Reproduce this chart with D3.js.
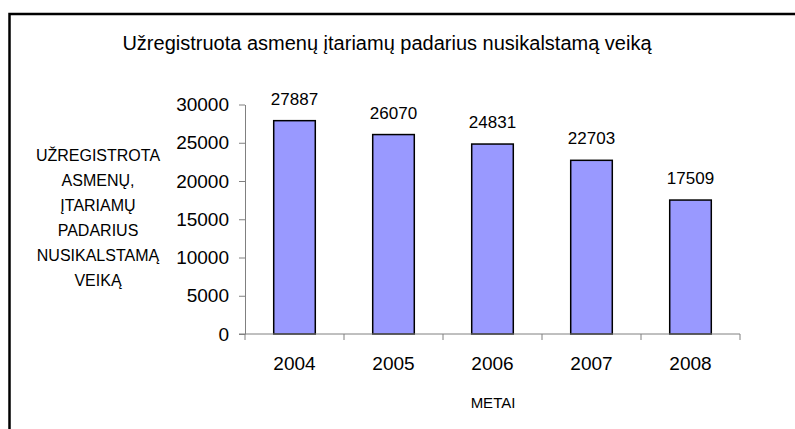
<!DOCTYPE html>
<meta charset="utf-8" />
<title>Užregistruota asmenų</title>
<style>
  body { margin: 0; background: #fff; }
  text { font-family: "Liberation Sans", Arial, sans-serif; fill: #000; }
  .bar { fill: #9999ff; stroke: #000; stroke-width: 1.5px; }
  .axis path, .axis line { stroke: #808080; stroke-width: 1px; }
</style>
<body>
  <script src="https://d3js.org/d3.v7.min.js"></script>
  <script>
    var years = ["2004", "2005", "2006", "2007", "2008"];
    var values = [27887, 26070, 24831, 22703, 17509];
    var yTicks = [0, 5000, 10000, 15000, 20000, 25000, 30000];
    var yTitle = ["UŽREGISTROTA", "ASMENŲ,", "ĮTARIAMŲ", "PADARIUS", "NUSIKALSTAMĄ", "VEIKĄ"];

    var width = 795, height = 429;
    var plot = { left: 245, right: 740, top: 104.5, bottom: 334 };

    var svg = d3.select("body").append("svg")
      .attr("width", width)
      .attr("height", height);

    // frame: only top and left edges are visible
    svg.append("path")
      .attr("d", "M9.5,432V14H796")
      .attr("fill", "none")
      .attr("stroke", "#000")
      .attr("stroke-width", 2.5);

    svg.append("text")
      .attr("x", 387)
      .attr("y", 50)
      .attr("text-anchor", "middle")
      .style("font-size", "20px")
      .text("Užregistruota asmenų įtariamų padarius nusikalstamą veiką");

    var x = d3.scaleBand().domain(years).range([plot.left, plot.right])
      .paddingInner(0.58).paddingOuter(0.29);
    var y = d3.scaleLinear().domain([0, 30000]).range([plot.bottom, plot.top]);

    // bars
    svg.selectAll(".bar").data(values).enter().append("rect")
      .attr("class", "bar")
      .attr("x", function (d, i) { return x(years[i]); })
      .attr("y", function (d) { return y(d); })
      .attr("width", x.bandwidth())
      .attr("height", function (d) { return y(0) - y(d); });

    svg.selectAll(".val").data(values).enter().append("text")
      .attr("class", "val")
      .attr("x", function (d, i) { return x(years[i]) + x.bandwidth() / 2; })
      .attr("y", function (d) { return y(d) - 16; })
      .attr("text-anchor", "middle")
      .style("font-size", "17px")
      .text(function (d) { return d; });

    // y axis
    var yAxis = svg.append("g")
      .attr("class", "axis")
      .attr("transform", "translate(" + plot.left + ",0)")
      .call(d3.axisLeft(y).tickValues(yTicks).tickSize(6).tickSizeOuter(0).tickPadding(10).tickFormat(d3.format("d")));
    yAxis.selectAll("text").style("font-size", "19px").attr("fill", "#000");

    // x axis with ticks between categories
    var xAxis = svg.append("g")
      .attr("class", "axis")
      .attr("transform", "translate(0," + plot.bottom + ")");
    xAxis.append("line")
      .attr("x1", plot.left - 6).attr("x2", plot.right)
      .attr("y1", 0).attr("y2", 0);
    var edges = years.map(function (d) { return x(d) - x.step() * x.paddingInner() / 2; });
    edges.push(plot.right);
    xAxis.selectAll(".tk").data(edges).enter().append("line")
      .attr("x1", function (d) { return d; })
      .attr("x2", function (d) { return d; })
      .attr("y1", 0).attr("y2", 6);
    xAxis.selectAll(".lbl").data(years).enter().append("text")
      .attr("x", function (d) { return x(d) + x.bandwidth() / 2; })
      .attr("y", 36)
      .attr("text-anchor", "middle")
      .style("font-size", "19px")
      .text(function (d) { return d; });

    svg.append("text")
      .attr("x", 493)
      .attr("y", 408)
      .attr("text-anchor", "middle")
      .style("font-size", "15px")
      .text("METAI");

    svg.append("text")
      .attr("text-anchor", "middle")
      .style("font-size", "16px")
      .selectAll("tspan").data(yTitle).enter().append("tspan")
      .attr("x", 98)
      .attr("y", function (d, i) { return 161 + i * 25; })
      .text(function (d) { return d; });
  </script>
</body>
